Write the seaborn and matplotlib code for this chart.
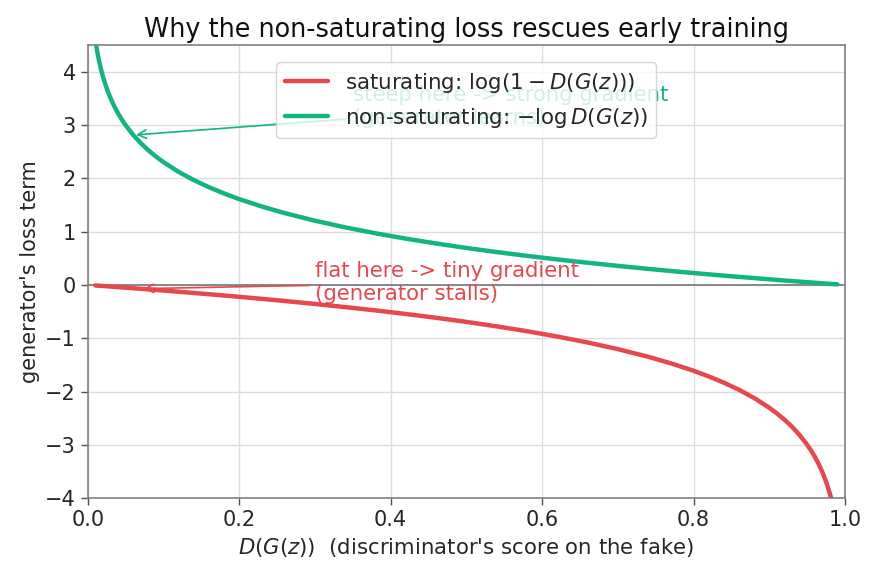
import matplotlib
matplotlib.use("Agg")
import matplotlib.pyplot as plt
import seaborn as sns

# D(G(z)) values and the two loss terms
d_score = [0.01, 0.0125, 0.015, 0.0175, 0.02, 0.025, 0.03, 0.035, 0.04, 0.045, 0.05, 0.06,
           0.07, 0.08, 0.09, 0.10, 0.12, 0.14, 0.16, 0.18, 0.20, 0.23, 0.26, 0.30, 0.34,
           0.38, 0.42, 0.46, 0.50, 0.54, 0.58, 0.62, 0.66, 0.70, 0.74, 0.77, 0.80, 0.82,
           0.84, 0.86, 0.88, 0.90, 0.91, 0.92, 0.93, 0.94, 0.95, 0.955, 0.96, 0.965, 0.97,
           0.975, 0.98, 0.9825, 0.985, 0.9875, 0.99]
non_saturating = [4.605, 4.382, 4.200, 4.046, 3.912, 3.689, 3.507, 3.352, 3.219, 3.101, 2.996, 2.813,
                  2.659, 2.526, 2.408, 2.303, 2.120, 1.966, 1.833, 1.715, 1.609, 1.470, 1.347, 1.204, 1.079,
                  0.968, 0.868, 0.777, 0.693, 0.616, 0.545, 0.478, 0.416, 0.357, 0.301, 0.261, 0.223, 0.198,
                  0.174, 0.151, 0.128, 0.105, 0.094, 0.083, 0.073, 0.062, 0.051, 0.046, 0.041, 0.036, 0.030,
                  0.025, 0.020, 0.018, 0.015, 0.013, 0.010]
saturating = [-0.010, -0.013, -0.015, -0.018, -0.020, -0.025, -0.030, -0.036, -0.041, -0.046, -0.051, -0.062,
              -0.073, -0.083, -0.094, -0.105, -0.128, -0.151, -0.174, -0.198, -0.223, -0.261, -0.301, -0.357, -0.416,
              -0.478, -0.545, -0.616, -0.693, -0.777, -0.868, -0.968, -1.079, -1.204, -1.347, -1.470, -1.609, -1.715,
              -1.833, -1.966, -2.120, -2.303, -2.408, -2.526, -2.659, -2.813, -2.996, -3.101, -3.219, -3.352, -3.507,
              -3.689, -3.912, -4.046, -4.200, -4.382, -4.605]

RED = "#e5484d"
GREEN = "#12b57f"

sns.set_theme(style="whitegrid")
plt.rcParams["font.family"] = ["DejaVu Sans"]
plt.rcParams["axes.edgecolor"] = "#808080"
plt.rcParams["grid.color"] = "#dddddd"

fig = plt.figure(figsize=(8.77, 5.76), dpi=100)
ax = fig.add_axes([0.100, 0.135, 0.8635, 0.787])

sns.lineplot(x=d_score, y=saturating, color=RED, lw=3.2, ax=ax,
             label=r"saturating: $\log(1 - D(G(z)))$")
sns.lineplot(x=d_score, y=non_saturating, color=GREEN, lw=3.2, ax=ax,
             label=r"non-saturating: $-\log D(G(z))$")
ax.axhline(0, color="#808080", lw=1.3, zorder=1)

ax.annotate("steep here -> strong gradient\n(generator learns)", xy=(0.06, 2.81), xytext=(0.35, 3.34),
            color=GREEN, fontsize=15.3, va="center", ha="left",
            arrowprops=dict(arrowstyle="->", color=GREEN, lw=1.2))
ax.annotate("flat here -> tiny gradient\n(generator stalls)", xy=(0.07, -0.07), xytext=(0.30, 0.04),
            color=RED, fontsize=15.3, va="center", ha="left",
            arrowprops=dict(arrowstyle="->", color=RED, lw=1.2))

ax.set_xlim(0, 1)
ax.set_ylim(-4, 4.5)
ax.set_title("Why the non-saturating loss rescues early training", fontsize=18.4, color="#111111")
ax.set_xlabel(r"$D(G(z))$  (discriminator's score on the fake)", fontsize=15.3)
ax.set_ylabel("generator's loss term", fontsize=15)
ax.tick_params(axis="both", labelsize=15, length=5, width=1, color="#505050", left=True, bottom=True)
for s in ax.spines.values():
    s.set_linewidth(1.2)

leg = ax.legend(loc="upper center", fontsize=15.4, frameon=True, framealpha=0.8,
                bbox_to_anchor=(0.5, 0.985))
leg.set_zorder(5)

fig.savefig("out.png", dpi=100)
